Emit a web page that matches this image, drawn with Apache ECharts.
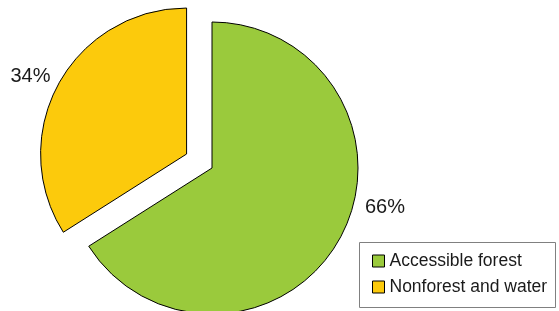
<!DOCTYPE html>
<html>
<head>
<meta charset="utf-8">
<script src="https://cdn.jsdelivr.net/npm/echarts@6/dist/echarts.min.js"></script>
<style>
  html, body { margin: 0; padding: 0; background: #fff; overflow: hidden; }
  #chart { width: 559px; height: 311px; }
</style>
</head>
<body>
<div id="chart"></div>
<script>
// 数据
var categories = ["Accessible forest", "Nonforest and water"];
var values = [66, 34];
var colors = ["#9ACA3C", "#FCCA0C"];
// 哪一块拉出来
var exploded = [false, true];

var myChart = echarts.init(document.getElementById("chart"));

var pieData = categories.map(function (name, i) {
  return {
    name: name,
    value: values[i],
    selected: exploded[i],
    itemStyle: { color: colors[i] },
  };
});

// 标签位置（Excel 的标签不在中线上，手动摆）
var labelPos = [
  { x: 365, y: 207 },
  { x: 13, y: 72 },
];

myChart.setOption({
  animation: false,
  textStyle: { fontFamily: "Liberation Sans, Arial, sans-serif" },
  // 图例外框
  graphic: {
    elements: [
      {
        type: "rect",
        z: 10,
        silent: true,
        shape: { x: 359.5, y: 242.5, width: 196, height: 65 },
        style: { fill: "none", stroke: "#808080", lineWidth: 1 },
      },
    ],
  },
  legend: {
    type: "plain",
    orient: "vertical",
    left: 359,
    top: 242,
    width: 176,
    height: 46,
    data: categories,
    icon: "rect",
    itemWidth: 12,
    itemHeight: 12,
    itemGap: 6,
    padding: [9, 7, 6, 13],
    backgroundColor: "#fff",
    selectedMode: false,
    itemStyle: { borderColor: "#000", borderWidth: 1 },
    textStyle: {
      fontSize: 17.5,
      lineHeight: 20,
      color: "#1a1a1a",
    },
  },
  series: [
    {
      type: "pie",
      center: [212, 168],
      radius: 146,
      startAngle: 90,
      clockwise: true,
      selectedMode: "multiple",
      selectedOffset: 29,
      avoidLabelOverlap: false,
      itemStyle: { borderColor: "#000", borderWidth: 1 },
      emphasis: { disabled: true },
      label: {
        show: true,
        position: "outside",
        alignTo: "none",
        formatter: "{c}%",
        fontSize: 20,
        color: "#1a1a1a",
      },
      labelLine: { show: false },
      labelLayout: function (params) {
        var p = labelPos[params.dataIndex];
        return { x: p.x, y: p.y, align: "left", verticalAlign: "middle" };
      },
      data: pieData,
    },
  ],
});
</script>
</body>
</html>
